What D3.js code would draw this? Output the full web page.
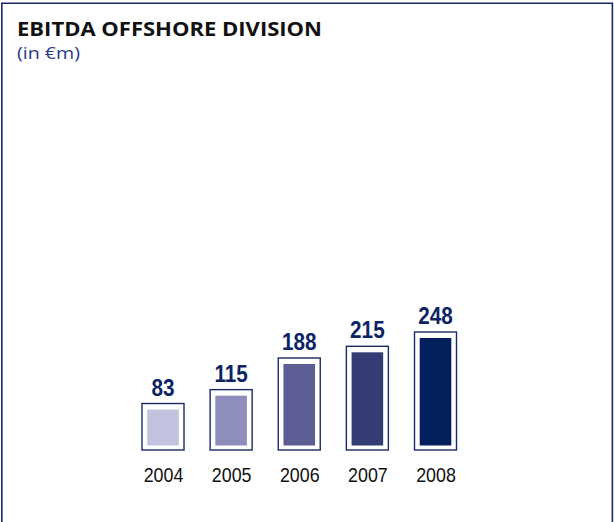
<!DOCTYPE html>
<html>
<head>
<meta charset="utf-8">
<script src="https://cdn.jsdelivr.net/npm/d3@7"></script>
<style>
  html, body { margin: 0; padding: 0; background: #fff; }
  svg { display: block; }
</style>
</head>
<body>
<svg id="chart" width="614" height="522"></svg>
<script>
// EBITDA of the offshore division, € millions
const years = ["2004", "2005", "2006", "2007", "2008"];
const ebitda = [83, 115, 188, 215, 248];
const fills = ["#c3c3df", "#8d8ebb", "#5d5f94", "#343c74", "#04205c"];

const svg = d3.select("#chart");
const navy = "#1a2a68";

// panel frame (open at the bottom)
svg.append("path")
  .attr("d", "M1.8,522 V3.2 H612.4 V522")
  .attr("fill", "none")
  .attr("stroke", navy)
  .attr("stroke-width", 1.6);

// titles
svg.append("text")
  .attr("x", 17).attr("y", 36)
  .attr("font-family", "'Open Sans', 'DejaVu Sans', sans-serif")
  .attr("font-weight", 700)
  .attr("font-size", 20)
  .attr("fill", "#111")
  .attr("textLength", 305)
  .attr("lengthAdjust", "spacingAndGlyphs")
  .text("EBITDA OFFSHORE DIVISION");

svg.append("text")
  .attr("x", 17).attr("y", 58.5)
  .attr("font-family", "'Open Sans', 'DejaVu Sans', sans-serif")
  .attr("font-size", 17)
  .attr("fill", "#2b3a8c")
  .attr("textLength", 63)
  .attr("lengthAdjust", "spacingAndGlyphs")
  .text("(in €m)");

// scales
const x = d3.scalePoint().domain(years).range([163, 435.5]);
const y = d3.scaleLinear().domain([0, 248]).range([445.5, 338]);

const outerW = 42, innerW = 31.6, outerBottom = 450, topPad = 6;
const data = years.map((yr, i) => ({ year: yr, value: ebitda[i], fill: fills[i] }));

const g = svg.append("g");

// outer framed box
g.selectAll("rect.frame").data(data).join("rect")
  .attr("class", "frame")
  .attr("x", d => x(d.year) - outerW / 2)
  .attr("y", d => y(d.value) - topPad)
  .attr("width", outerW)
  .attr("height", d => outerBottom - (y(d.value) - topPad))
  .attr("fill", "#fff")
  .attr("stroke", navy)
  .attr("stroke-width", 1.4);

// inner value bar
g.selectAll("rect.bar").data(data).join("rect")
  .attr("class", "bar")
  .attr("x", d => x(d.year) - innerW / 2)
  .attr("y", d => y(d.value))
  .attr("width", innerW)
  .attr("height", d => y(0) - y(d.value))
  .attr("fill", d => d.fill);

// value labels
g.selectAll("text.val").data(data).join("text")
  .attr("class", "val")
  .attr("text-anchor", "middle")
  .attr("transform", d => `translate(${x(d.year)},${y(d.value) - topPad - 8}) scale(0.9,1)`)
  .attr("font-family", "'Liberation Sans', Arial, sans-serif")
  .attr("font-weight", 700)
  .attr("font-size", 23)
  .attr("fill", "#0c2462")
  .text(d => d.value);

// year axis labels
const xAxis = d3.axisBottom(x).tickSize(0).tickPadding(0);
const axisG = svg.append("g").attr("transform", "translate(0,0)").call(xAxis);
axisG.select(".domain").remove();
axisG.selectAll(".tick text")
  .attr("y", 0).attr("dy", 0)
  .attr("transform", "translate(0,481.5) scale(0.87,1)")
  .attr("font-family", "'Liberation Sans', Arial, sans-serif")
  .attr("font-size", 20.5)
  .attr("fill", "#111");
</script>
</body>
</html>
